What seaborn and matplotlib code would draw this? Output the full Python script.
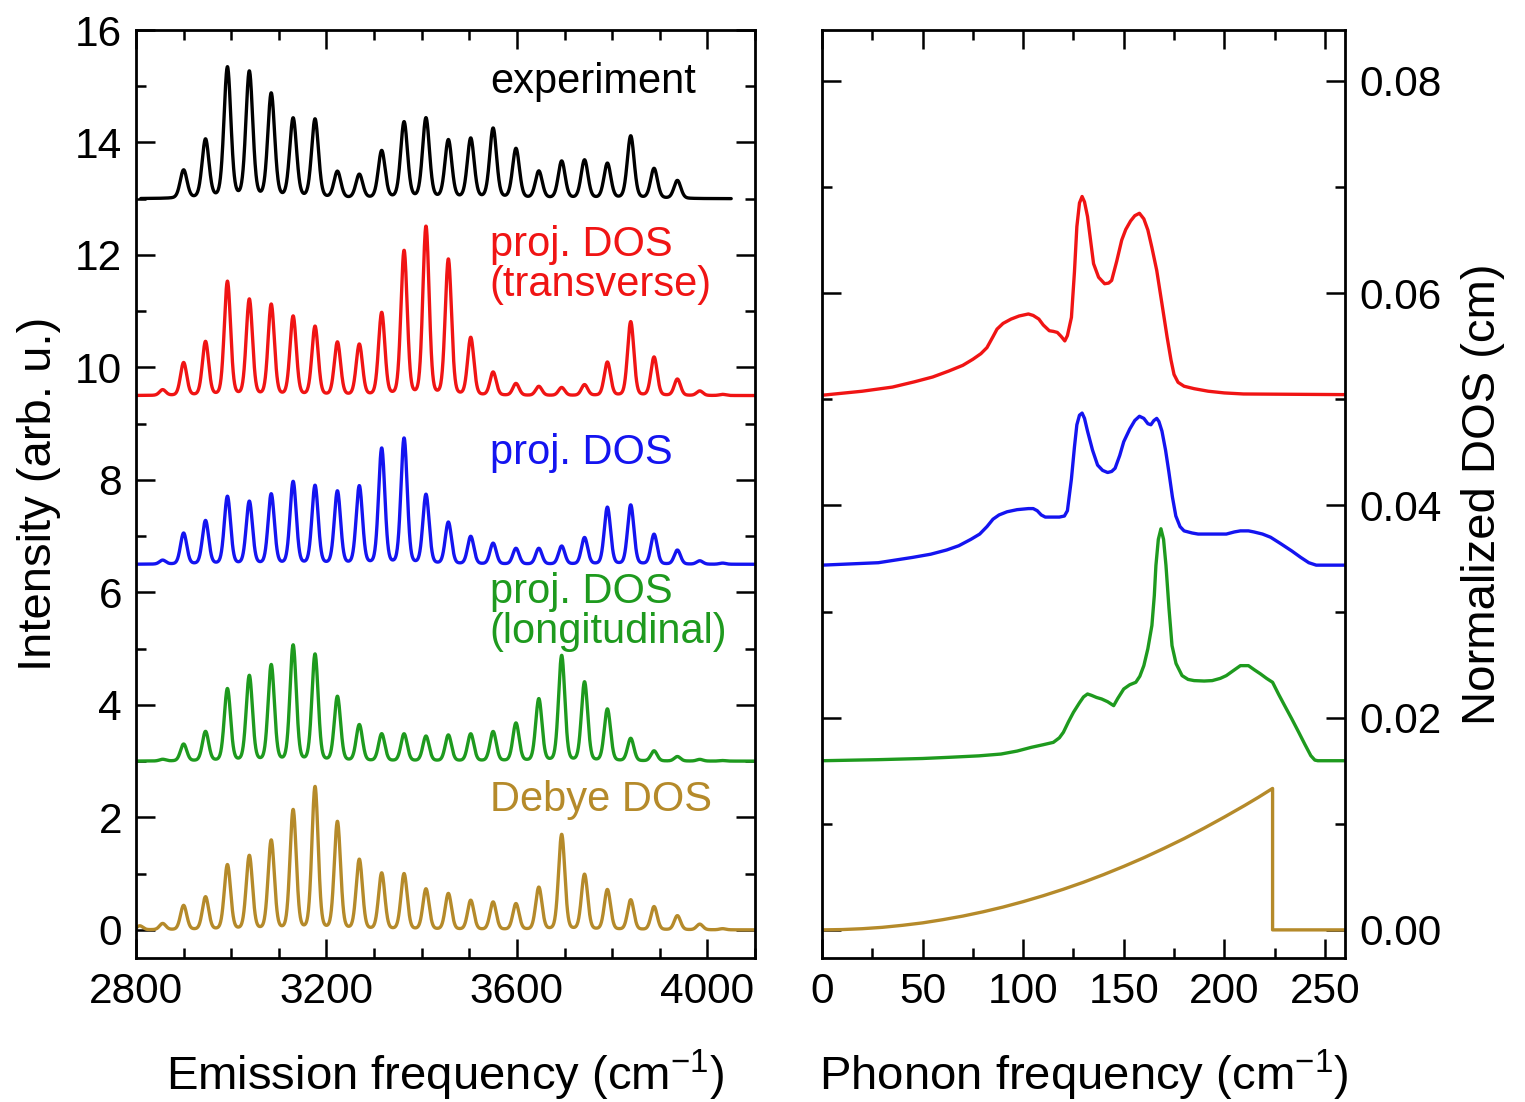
import numpy as np
import pandas as pd
import matplotlib
matplotlib.use("Agg")
import matplotlib.pyplot as plt
import seaborn as sns
from matplotlib.ticker import MultipleLocator, FormatStrFormatter

# ---------------- data ----------------
peak_centers = [2808, 2856, 2900, 2946, 2992, 3038, 3084, 3130, 3176, 3223, 3269,
                3316, 3363, 3409, 3456, 3503, 3550, 3598, 3646, 3694, 3742, 3790,
                3839, 3888, 3937, 3984, 4032]

exp_heights = [0.0, 0.0, 0.50, 1.04, 2.32, 2.24, 1.85, 1.41, 1.40, 0.47, 0.42,
               0.84, 1.35, 1.42, 1.03, 1.06, 1.24, 0.88, 0.48, 0.66, 0.68, 0.62,
               1.11, 0.53, 0.32, 0.0, 0.0]
trans_heights = [0.0, 0.10, 0.58, 0.95, 2.02, 1.70, 1.61, 1.40, 1.22, 0.94, 0.90,
                 1.46, 2.56, 2.99, 2.41, 1.02, 0.41, 0.21, 0.16, 0.14, 0.19, 0.59,
                 1.31, 0.68, 0.29, 0.08, 0.02]
proj_heights = [0.0, 0.07, 0.55, 0.77, 1.20, 1.11, 1.24, 1.46, 1.39, 1.29, 1.38,
                2.05, 2.23, 1.23, 0.74, 0.49, 0.37, 0.28, 0.28, 0.32, 0.47, 1.01,
                1.05, 0.53, 0.25, 0.06, 0.02]
long_heights = [0.0, 0.03, 0.30, 0.52, 1.28, 1.51, 1.70, 2.05, 1.89, 1.14, 0.64,
                0.48, 0.48, 0.44, 0.46, 0.48, 0.52, 0.67, 1.10, 1.87, 1.40, 0.92,
                0.40, 0.18, 0.08, 0.03, 0.01]
debye_heights = [0.07, 0.11, 0.43, 0.58, 1.15, 1.31, 1.58, 2.12, 2.53, 1.91, 1.24,
                 1.00, 0.99, 0.72, 0.64, 0.52, 0.49, 0.46, 0.75, 1.69, 0.98, 0.71,
                 0.53, 0.41, 0.25, 0.10, 0.02]
spectrum_offsets = [13.0, 9.5, 6.5, 3.0, 0.0]
exp_range = [2810, 4050]

# right panel: phonon DOS curves (x in cm^-1, y absolute incl. offset)
trans_x = [0, 20, 35, 46, 55, 63, 70, 75, 79, 82, 85, 87, 90, 94, 98, 102.6, 105,
           107.8, 110, 113, 115, 117, 119, 120.7, 122, 124, 125.5, 126.7, 128, 129.3,
           130.5, 132, 133.5, 135, 137.5, 140.5, 142.5, 144, 146.5, 149, 151, 153.4,
           155.5, 157.8, 160, 162, 164, 166.4, 169, 171.6, 173.5, 175, 177, 180, 185,
           192, 200, 209.5, 260]
trans_y = [0.05038, 0.05076, 0.05115, 0.05165, 0.05210, 0.05266, 0.05320, 0.05377,
           0.05430, 0.05487, 0.05590, 0.05661, 0.05715, 0.05756, 0.05785, 0.05804,
           0.05790, 0.05756, 0.05700, 0.05646, 0.05640, 0.05630, 0.05590, 0.05550,
           0.05600, 0.05772, 0.06200, 0.06627, 0.06850, 0.06911, 0.06860, 0.06722,
           0.06500, 0.06278, 0.06150, 0.06089, 0.06095, 0.06120, 0.06300, 0.06500,
           0.06600, 0.06680, 0.06730, 0.06753, 0.06700, 0.06595, 0.06430, 0.06215,
           0.05900, 0.05582, 0.05370, 0.05234, 0.05160, 0.05123, 0.05100, 0.05076,
           0.05060, 0.05050, 0.05044]

proj_x = [0, 28, 45, 54, 62, 68, 74, 78.4, 82, 85, 88, 92, 97, 102.6, 105, 107, 109,
          111, 115, 118, 120.5, 122, 124, 125.5, 126.7, 128, 129.3, 130.5, 132, 134.5,
          137, 139.5, 142, 144, 145.7, 148, 150, 153, 155.5, 157.8, 160, 162, 163.5,
          165, 166.4, 167.5, 169, 170.8, 172.4, 174.2, 175.9, 178, 180, 184, 187, 195,
          201, 205, 208, 212, 214.7, 219, 223, 228, 233.6, 238, 242, 245.7, 260]
proj_y = [0.03437, 0.0346, 0.0351, 0.0354, 0.0358, 0.0362, 0.0368, 0.0373, 0.0380,
          0.0387, 0.0391, 0.0394, 0.0396, 0.0397, 0.0397, 0.0395, 0.0391, 0.0389,
          0.0389, 0.0389, 0.0390, 0.0395, 0.0425, 0.0455, 0.0476, 0.0485, 0.0487,
          0.0482, 0.0470, 0.0452, 0.0438, 0.0433, 0.0431, 0.0432, 0.0435, 0.0447,
          0.0460, 0.0472, 0.0480, 0.0484, 0.0482, 0.0477, 0.0476, 0.0480, 0.0482,
          0.0479, 0.0470, 0.0452, 0.0432, 0.0408, 0.0390, 0.0380, 0.0376, 0.0374,
          0.0373, 0.0373, 0.0373, 0.0375, 0.0376, 0.0376, 0.0375, 0.0373, 0.0370,
          0.0364, 0.0357, 0.0351, 0.0346, 0.03437, 0.03437]

long_x = [0, 28, 50, 63, 78, 89, 97, 104, 110, 115, 118, 120, 122.5, 125, 128, 130,
          132, 134, 136.5, 139, 142, 145, 147, 150, 153, 156, 158, 160, 162, 164,
          165.2, 166, 167.2, 168.5, 169.8, 171, 172.5, 174, 176, 179, 182, 185, 190,
          194, 198, 201, 205, 208, 212, 215, 218, 221, 224, 227, 230, 233.5, 237,
          240, 243, 245, 246.5, 260]
long_y = [0.01594, 0.01604, 0.01615, 0.01626, 0.01640, 0.01657, 0.01685, 0.01720,
          0.01745, 0.01767, 0.01810, 0.01862, 0.01960, 0.02050, 0.02140, 0.02195,
          0.02223, 0.02210, 0.02190, 0.02176, 0.02150, 0.02113, 0.02180, 0.02270,
          0.02310, 0.02333, 0.02390, 0.02490, 0.02650, 0.02868, 0.03150, 0.03434,
          0.03680, 0.03780, 0.03680, 0.03434, 0.03030, 0.02679, 0.02510, 0.02396,
          0.02360, 0.02349, 0.02345, 0.02349, 0.02370, 0.02396, 0.02450, 0.02490,
          0.02490, 0.02450, 0.02412, 0.02370, 0.02333, 0.02220, 0.02113, 0.01990,
          0.01862, 0.01750, 0.01642, 0.01600, 0.01594, 0.01594]

debye_x = [0, 10, 20, 30, 40, 50, 60, 70, 80, 90, 100, 110, 120, 130, 140, 150, 160,
           170, 180, 190, 200, 210, 217, 224, 224, 260]
debye_y = [0.0, 0.00003, 0.00011, 0.00024, 0.00043, 0.00066, 0.00096, 0.00130,
           0.00170, 0.00215, 0.00266, 0.00322, 0.00383, 0.00449, 0.00521, 0.00598,
           0.00680, 0.00768, 0.00860, 0.00959, 0.01063, 0.01171, 0.01250, 0.01333,
           0.0, 0.0]

labels = ["experiment", "proj. DOS (transverse)", "proj. DOS",
          "proj. DOS (longitudinal)", "Debye DOS"]
colors = ["#000000", "#F01414", "#1414F0", "#1E9A1E", "#B58A2A"]

# ---------------- build spectra ----------------
def spectrum(x, heights, fwhm, eta=0.2):
    y = np.zeros_like(x)
    s = fwhm / 2.3548
    g = fwhm / 2.0
    for c, h in zip(peak_centers, heights):
        gau = np.exp(-0.5 * ((x - c) / s) ** 2)
        lor = g ** 2 / ((x - c) ** 2 + g ** 2)
        y += h * ((1 - eta) * gau + eta * lor)
    return y

frames = []
height_sets = [exp_heights, trans_heights, proj_heights, long_heights, debye_heights]
for i, (lab, hs, off) in enumerate(zip(labels, height_sets, spectrum_offsets)):
    if i == 0:
        x = np.linspace(exp_range[0], exp_range[1], 2500)
        y = spectrum(x, hs, 17.0, 0.2) + off
    else:
        x = np.linspace(2800, 4100, 2600)
        y = spectrum(x, hs, 15.5, 0.15) + off
    frames.append(pd.DataFrame({"x": x, "y": y, "series": lab}))
left_df = pd.concat(frames, ignore_index=True)

right_df = pd.concat([
    pd.DataFrame({"x": trans_x, "y": trans_y, "series": labels[1]}),
    pd.DataFrame({"x": proj_x, "y": proj_y, "series": labels[2]}),
    pd.DataFrame({"x": long_x, "y": long_y, "series": labels[3]}),
    pd.DataFrame({"x": debye_x, "y": debye_y, "series": labels[4]}),
], ignore_index=True)

# ---------------- style ----------------
sns.set_theme(style="ticks")
plt.rcParams["font.family"] = ["Liberation Sans", "DejaVu Sans"]
plt.rcParams["mathtext.fontset"] = "custom"
plt.rcParams["mathtext.rm"] = "Liberation Sans"
plt.rcParams["mathtext.it"] = "Liberation Sans:italic"
plt.rcParams["axes.linewidth"] = 2.0
plt.rcParams["axes.labelcolor"] = "black"
plt.rcParams["text.color"] = "black"
plt.rcParams["xtick.color"] = "black"
plt.rcParams["ytick.color"] = "black"

fig = plt.figure(figsize=(15.25, 11.02), dpi=100)
axL = fig.add_axes([136 / 1525, 144 / 1102, 619 / 1525, 928 / 1102])
axR = fig.add_axes([822 / 1525, 144 / 1102, 523 / 1525, 928 / 1102])

pal = dict(zip(labels, colors))
sns.lineplot(data=left_df, x="x", y="y", hue="series", palette=pal, ax=axL,
             legend=False, linewidth=2.4, sort=False, estimator=None)
sns.lineplot(data=right_df, x="x", y="y", hue="series", palette=pal, ax=axR,
             legend=False, linewidth=2.4, sort=False, estimator=None)

FS = 30.5
for ax in (axL, axR):
    for sp in ax.spines.values():
        sp.set_linewidth(2.0)
        sp.set_color("black")
    ax.tick_params(which="both", direction="in", top=True, bottom=True,
                   left=True, right=True, width=1.8, colors="black",
                   labelsize=FS, pad=10)
    ax.tick_params(which="major", length=14)
    ax.tick_params(which="minor", length=7)

axL.set_xlim(2800, 4100)
axL.set_ylim(-0.5, 16)
axL.xaxis.set_major_locator(MultipleLocator(400))
axL.xaxis.set_minor_locator(MultipleLocator(100))
axL.yaxis.set_major_locator(MultipleLocator(2))
axL.yaxis.set_minor_locator(MultipleLocator(1))
axL.set_xlabel("Emission frequency (cm$^{-1}$)", fontsize=34, labelpad=26)
axL.set_ylabel("Intensity (arb. u.)", fontsize=34, labelpad=10)

axR.set_xlim(0, 260)
axR.set_ylim(-0.5 * 0.0053, 16 * 0.0053)
axR.xaxis.set_major_locator(MultipleLocator(50))
axR.xaxis.set_minor_locator(MultipleLocator(25))
axR.yaxis.set_major_locator(MultipleLocator(0.02))
axR.yaxis.set_minor_locator(MultipleLocator(0.01))
axR.yaxis.set_major_formatter(FormatStrFormatter("%.2f"))
axR.tick_params(axis="y", labelleft=False, labelright=True)
axR.yaxis.set_label_position("right")
axR.set_xlabel("Phonon frequency (cm$^{-1}$)", fontsize=34, labelpad=26)
axR.set_ylabel("Normalized DOS (cm)", fontsize=34, labelpad=14)

# series labels
tx = 3543
text_items = [("experiment", 15.07, colors[0]),
              ("proj. DOS", 12.18, colors[1]), ("(transverse)", 11.47, colors[1]),
              ("proj. DOS", 8.48, colors[2]),
              ("proj. DOS", 6.01, colors[3]), ("(longitudinal)", 5.30, colors[3]),
              ("Debye DOS", 2.31, colors[4])]
for t, yv, c in text_items:
    axL.text(tx, yv, t, color=c, fontsize=30, ha="left", va="center")

fig.savefig("out.png", dpi=100)
